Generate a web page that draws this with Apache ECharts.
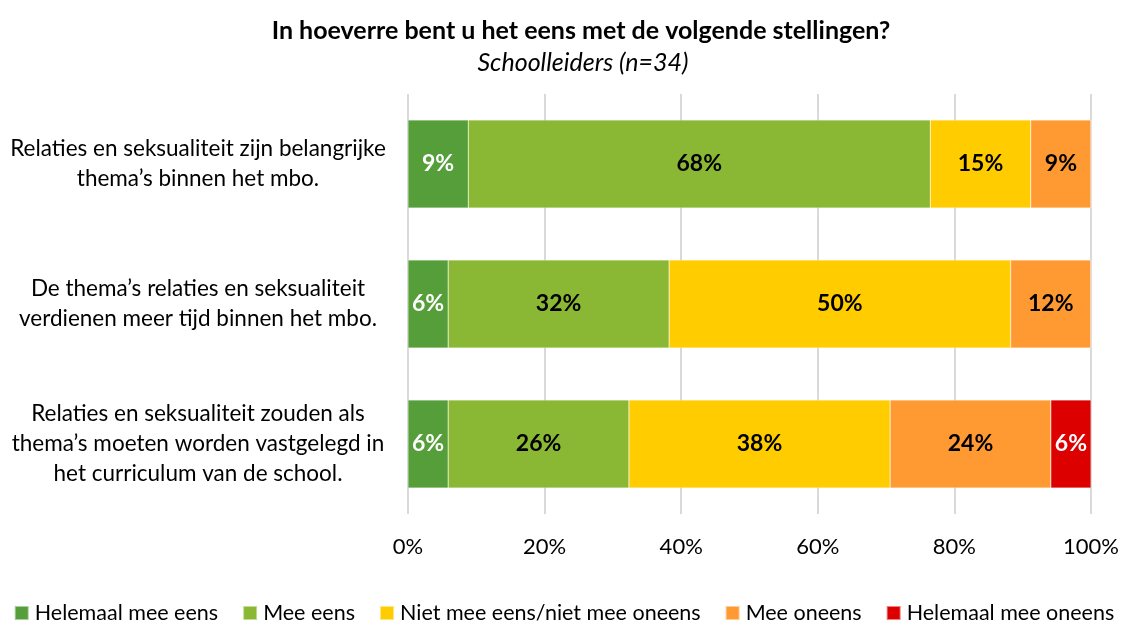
<!DOCTYPE html>
<html>
<head>
<meta charset="utf-8">
<script src="https://cdn.jsdelivr.net/npm/echarts@6/dist/echarts.min.js"></script>
<style>html,body{margin:0;padding:0;background:#fff}#c{width:1128px;height:623px}</style>
</head>
<body>
<div id="c"></div>
<script>
const categories = [
  "Relaties en seksualiteit zijn belangrijke\nthema\u2019s binnen het mbo.",
  "De thema\u2019s relaties en seksualiteit\nverdienen meer tijd binnen het mbo.",
  "Relaties en seksualiteit zouden als\nthema\u2019s moeten worden vastgelegd in\nhet curriculum van de school."
];
const seriesNames = ["Helemaal mee eens", "Mee eens", "Niet mee eens/niet mee oneens", "Mee oneens", "Helemaal mee oneens"];
const helemaalMeeEens = [8.82, 5.88, 5.88];
const meeEens = [67.65, 32.35, 26.47];
const neutraal = [14.71, 50.0, 38.24];
const meeOneens = [8.82, 11.76, 23.53];
const helemaalMeeOneens = [0, 0, 5.88];
const xTicks = [0, 20, 40, 60, 80, 100];

const colors = ["#559E3A", "#8BB834", "#FFCC00", "#FF9A33", "#DD0000"];
const labelColors = ["#fff", "#000", "#000", "#000", "#fff"];
const values = [helemaalMeeEens, meeEens, neutraal, meeOneens, helemaalMeeOneens];
const FONT = "Lato";

const chart = echarts.init(document.getElementById('c'));
chart.setOption({
  animation: false,
  textStyle: { fontFamily: FONT },
  title: [
    { text: "In hoeverre bent u het eens met de volgende stellingen?", left: 576, top: 13, textAlign: 'center',
      textStyle: { fontSize: 25, fontWeight: 'bold', color: '#000', fontFamily: FONT } },
    { text: "Schoolleiders (n=34)", left: 578, top: 45, textAlign: 'center',
      textStyle: { fontSize: 25, fontStyle: 'italic', fontWeight: 'normal', color: '#000', fontFamily: FONT } }
  ],
  legend: {
    top: 597, left: 'center', itemWidth: 14, itemHeight: 14, itemGap: 24,
    icon: 'rect',
    textStyle: { fontSize: 21.5, color: '#000', fontFamily: FONT, padding: [0, 0, 0, 1] },
    data: seriesNames
  },
  grid: { left: 408, right: 37, top: 94, bottom: 109, containLabel: false },
  xAxis: {
    type: 'value', min: 0, max: 100, interval: 20,
    axisLine: { show: false }, axisTick: { show: false },
    splitLine: { lineStyle: { color: '#D9D9D9', width: 2 } },
    axisLabel: { formatter: v => xTicks.includes(v) ? v + '%' : '', fontSize: 22, color: '#000', margin: 22, fontFamily: FONT }
  },
  yAxis: {
    type: 'category', data: categories, inverse: true,
    axisLine: { show: false }, axisTick: { show: false },
    axisLabel: { fontSize: 22.5, color: '#000', align: 'center', margin: 210, lineHeight: 30, fontFamily: FONT }
  },
  series: seriesNames.map((name, i) => ({
    name, type: 'bar', stack: 'total', barCategoryGap: '37%',
    itemStyle: { color: colors[i], borderColor: 'rgba(255,255,255,0.5)', borderWidth: 0.5 },
    label: {
      show: true, position: 'inside', fontSize: 23, fontWeight: 'bold', color: labelColors[i], fontFamily: FONT,
      formatter: p => p.value > 0 ? Math.round(p.value) + '%' : ''
    },
    data: values[i]
  }))
});
</script>
</body>
</html>
